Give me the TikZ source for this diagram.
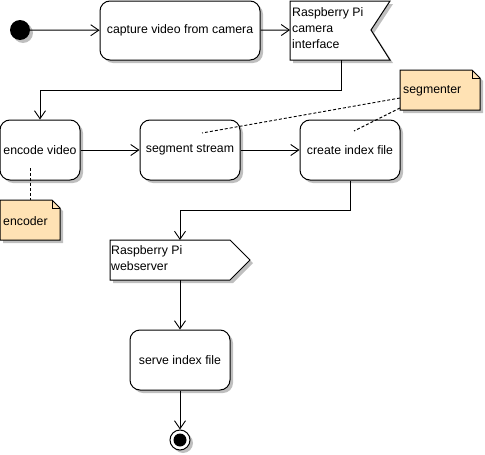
\documentclass[tikz,border=0pt]{standalone}
\usepackage{fontspec}
\setmainfont{Liberation Sans}
\usetikzlibrary{arrows.meta,shadows}
\definecolor{notebg}{RGB}{255,226,180}
\begin{document}
\begin{tikzpicture}[x=1pt,y=-1pt,
  font=\fontsize{12.3}{16}\selectfont,
  action/.style={draw,fill=white,rounded corners=10pt,line width=1pt,
    drop shadow={shadow xshift=3pt,shadow yshift=-3pt,fill=black!25,opacity=1}},
  flow/.style={line width=1pt,-{Straight Barb[length=8pt,width=11pt,line width=0.9pt]}},
  notefill/.style={fill=notebg,draw,line width=1pt},
  link/.style={line width=0.9pt,dash pattern=on 3pt off 2pt}
]
\useasboundingbox (0,0) rectangle (485,455);

% initial state
\fill[black!25] (23,33) circle (10);
\node[circle,fill=black,minimum size=20pt,inner sep=0] (start) at (20,30) {};

% actions
\node[action,minimum width=160pt,minimum height=59pt] (capture) at (180,30.5) {capture video from camera};
\node[action,minimum width=80pt,minimum height=60pt] (encode) at (40,150) {encode video};
\node[action,minimum width=100pt,minimum height=60pt] (segment) at (190,150) {segment stream};
\node[action,minimum width=100pt,minimum height=60pt] (index) at (350,150) {create index file};
\node[action,minimum width=100pt,minimum height=60pt] (serve) at (180,360) {serve index file};

% receive signal: camera interface
\fill[black!25] (293,4) -- (393,4) -- (374,33) -- (393,63) -- (293,63) -- cycle;
\filldraw[fill=white,line width=1pt] (290,1) -- (390,1) -- (371,30) -- (390,60) -- (290,60) -- cycle;
\node[anchor=north west,align=left,inner sep=0pt] (cam) at (292,7) {Raspberry Pi\\camera\\interface};
\coordinate (camin) at (290,30);
\coordinate (camout) at (341,60);

% send signal: webserver
\fill[black!25] (113,243) -- (233,243) -- (253,263) -- (233,283) -- (113,283) -- cycle;
\filldraw[fill=white,line width=1pt] (110,240) -- (230,240) -- (250,260) -- (230,280) -- (110,280) -- cycle;
\node[anchor=north west,align=left,inner sep=0pt] (web) at (111,245) {Raspberry Pi\\webserver};
\coordinate (webin) at (180,240);
\coordinate (webout) at (180,280);

% final state
\fill[black!25] (183,443) circle (10);
\node[circle,draw,fill=white,line width=1pt,minimum size=20pt,inner sep=0] (final) at (180,440) {};
\fill[black] (final.center) circle (6.5);

% notes
\fill[black!25] (403,73) -- (475,73) -- (483,81) -- (483,113) -- (403,113) -- cycle;
\filldraw[notefill] (400,70) -- (472,70) -- (480,78) -- (480,110) -- (400,110) -- cycle;
\draw[line width=1pt] (472,70) -- (472,78) -- (480,78);
\node[anchor=west,inner sep=0pt] (segnote) at (403,91) {segmenter};

\fill[black!25] (3,203) -- (55,203) -- (63,211) -- (63,243) -- (3,243) -- cycle;
\filldraw[notefill] (0,200) -- (52,200) -- (60,208) -- (60,240) -- (0,240) -- cycle;
\draw[line width=1pt] (52,200) -- (52,208) -- (60,208);
\node[anchor=west,inner sep=0pt] (encnote) at (3,221) {encoder};

% flows
\draw[flow] (start) -- (capture);
\draw[flow] (capture) -- (camin);
\draw[flow] (camout) -- (341,90) -- (40,90) -- (encode.north);
\draw[flow] (encode) -- (segment);
\draw[flow] (segment) -- (index);
\draw[flow] (index.south) -- (350,210) -- (180,210) -- (webin);
\draw[flow] (webout) -- (serve.north);
\draw[flow] (serve.south) -- (final.north);

% note links
\draw[link] (400,98) -- (202,133);
\draw[link] (400,108) -- (354,131);
\draw[link] (30,168) -- (30,200);
\end{tikzpicture}
\end{document}
